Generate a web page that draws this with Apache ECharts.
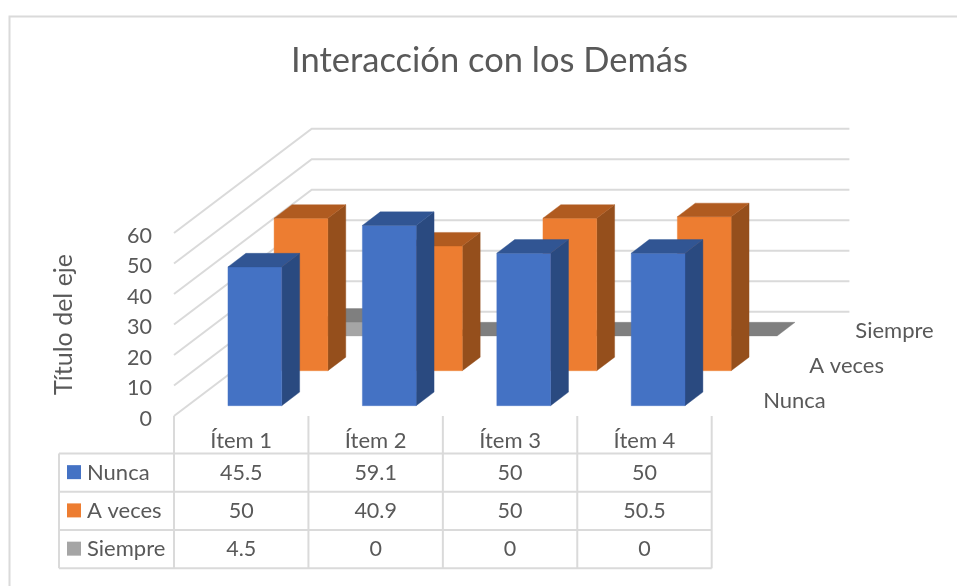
<!DOCTYPE html>
<html>
<head>
<meta charset="utf-8">
<style>html,body{margin:0;padding:0;background:#fff}#c{width:957px;height:586px}</style>
<script src="https://cdn.jsdelivr.net/npm/echarts@6/dist/echarts.min.js"></script>
</head>
<body>
<div id="c"></div>
<script>
const chartTitle = 'Interacción con los Demás';
const yAxisTitle = 'Título del eje';
const categories = ['Ítem 1', 'Ítem 2', 'Ítem 3', 'Ítem 4'];
const rowNames = ['Nunca', 'A veces', 'Siempre'];
const nunca = [45.5, 59.1, 50, 50];
const aVeces = [50, 40.9, 50, 50.5];
const siempre = [4.5, 0, 0, 0];
const yTicks = [0, 10, 20, 30, 40, 50, 60];

const FONT = 'Lato, "Open Sans", sans-serif';
const TEXT = '#595959';
const LINE = '#DADADA';
// projection of the depth axis, in pixels for the whole depth of the floor
const DEPTH_X = 137.7, DEPTH_Y = -104.3;
const BAR_WIDTH_RATIO = 0.4, ROW_START = [0.099, 0.434, 0.768], BAR_DEPTH = 0.13;
const SKINS = [
  {front: '#4472C4', top: '#315593', side: '#2A4A80'},
  {front: '#ED7D31', top: '#B05B20', side: '#954F1C'},
  {front: '#A5A5A5', top: '#7F7F7F', side: '#6E6E6E'}
];
// table layout
const TABLE_ROW_Y = [453.5, 491.8, 530, 568.3];
const TABLE_LEFT = 59;

function polygon(points, fill) {
  return {type: 'polygon', shape: {points}, style: {fill, stroke: fill, lineWidth: 0.4}};
}
function renderBar(row) {
  return function (params, api) {
    const band = api.size([1, 0])[0];
    const w = band * BAR_WIDTH_RATIO;
    const base = api.coord([api.value(0), 0]);
    const head = api.coord([api.value(0), api.value(1)]);
    const d0 = ROW_START[row];
    const ox = DEPTH_X * d0, oy = DEPTH_Y * d0;
    const bx = DEPTH_X * BAR_DEPTH, by = DEPTH_Y * BAR_DEPTH;
    const l = base[0] - w / 2 + ox, r = base[0] + w / 2 + ox;
    const yb = base[1] + oy, yt = head[1] + oy;
    const s = SKINS[row];
    const children = [];
    if (yb - yt > 0.01) {
      children.push(polygon([[r, yb], [r + bx, yb + by], [r + bx, yt + by], [r, yt]], s.side));
      children.push(polygon([[l, yb], [r, yb], [r, yt], [l, yt]], s.front));
    }
    children.push(polygon([[l, yt], [r, yt], [r + bx, yt + by], [l + bx, yt + by]], s.top));
    return {type: 'group', children};
  };
}
function renderWall(params, api) {
  const band = api.size([1, 0])[0];
  const first = api.coord([0, api.value(0)]);
  const last = api.coord([categories.length - 1, api.value(0)]);
  const x0 = first[0] - band / 2, x1 = last[0] + band / 2, y = first[1];
  return {
    type: 'polyline',
    shape: {points: [[x0, y], [x0 + DEPTH_X, y + DEPTH_Y], [x1 + DEPTH_X, y + DEPTH_Y]]},
    style: {fill: 'none', stroke: LINE, lineWidth: 2}
  };
}
function renderDepthLabel(params, api) {
  const band = api.size([1, 0])[0];
  const row = api.value(0);
  const c = api.coord([categories.length - 1, 0]);
  return {
    type: 'text',
    style: {
      text: rowNames[row], fill: TEXT, font: '22px ' + FONT, align: 'left', verticalAlign: 'middle',
      x: c[0] + band / 2 + 51.5 + DEPTH_X * (ROW_START[row] - ROW_START[0]),
      y: 401 + (row * -35)
    }
  };
}
function renderTable(params, api) {
  const band = api.size([1, 0])[0];
  const n = categories.length;
  const first = api.coord([0, 0]);
  const xs = categories.map((_, i) => api.coord([i, 0])[0] - band / 2);
  xs.push(api.coord([n - 1, 0])[0] + band / 2);
  const right = xs[n];
  const children = [];
  const line = (x1, y1, x2, y2) => ({type: 'line', shape: {x1, y1, x2, y2}, style: {stroke: LINE, lineWidth: 2}});
  TABLE_ROW_Y.forEach(y => children.push(line(TABLE_LEFT, y, right, y)));
  children.push(line(TABLE_LEFT, TABLE_ROW_Y[0], TABLE_LEFT, TABLE_ROW_Y[3]));
  xs.forEach(x => children.push(line(x, first[1], x, TABLE_ROW_Y[3])));
  rowNames.forEach((name, r) => {
    const cy = (TABLE_ROW_Y[r] + TABLE_ROW_Y[r + 1]) / 2;
    children.push({type: 'rect', shape: {x: 67, y: cy - 7.5, width: 14, height: 14}, style: {fill: SKINS[r].front}});
    children.push({type: 'text', style: {text: name, x: 87, y: cy, fill: TEXT, font: '22px ' + FONT, align: 'left', verticalAlign: 'middle'}});
  });
  [nunca, aVeces, siempre].forEach((vals, r) => {
    const cy = (TABLE_ROW_Y[r] + TABLE_ROW_Y[r + 1]) / 2;
    vals.forEach((v, i) => children.push({type: 'text', style: {text: String(v), x: api.coord([i, 0])[0], y: cy, fill: TEXT, font: '21.5px ' + FONT, align: 'center', verticalAlign: 'middle'}}));
  });
  return {type: 'group', children};
}

const chart = echarts.init(document.getElementById('c'), null, {renderer: 'canvas'});
const barSeries = (name, row, values, z) => ({
  type: 'custom', name, z, coordinateSystem: 'cartesian2d', silent: true, clip: false,
  encode: {x: 0, y: 1},
  renderItem: renderBar(row),
  data: values.map((v, i) => [i, v])
});
chart.setOption({
  animation: false,
  backgroundColor: '#fff',
  title: {
    text: chartTitle, left: 484.5, top: 38, textAlign: 'center',
    textStyle: {fontFamily: FONT, fontWeight: 'normal', fontSize: 34.5, color: TEXT}
  },
  grid: {left: 174, top: 233, width: 537.7, height: 183},
  xAxis: {
    type: 'category', data: categories,
    axisLine: {show: false}, axisTick: {show: false}, splitLine: {show: false},
    axisLabel: {color: TEXT, fontFamily: FONT, fontSize: 22, margin: 14}
  },
  yAxis: {
    type: 'value', min: 0, max: 60, interval: 10,
    name: yAxisTitle, nameLocation: 'middle', nameGap: 98, nameRotate: 90,
    nameTextStyle: {color: TEXT, fontFamily: FONT, fontSize: 25},
    axisLine: {show: false}, axisTick: {show: false}, splitLine: {show: false},
    axisLabel: {color: TEXT, fontFamily: FONT, fontSize: 21.5, margin: 22, verticalAlign: 'top', lineHeight: 6}
  },
  graphic: [
    {type: 'polyline', shape: {points: [[9.5, 586], [9.5, 16.5], [957, 16.5]]}, style: {fill: 'none', stroke: LINE, lineWidth: 2}, silent: true}
  ],
  series: [
    {type: 'custom', name: 'walls', z: 1, silent: true, clip: false, encode: {y: 0}, renderItem: renderWall, data: yTicks.map(v => [v])},
    barSeries('Siempre', 2, siempre, 2),
    barSeries('A veces', 1, aVeces, 3),
    barSeries('Nunca', 0, nunca, 4),
    {type: 'custom', name: 'depthLabels', z: 5, silent: true, clip: false, renderItem: renderDepthLabel, data: rowNames.map((_, r) => [r])},
    {type: 'custom', name: 'table', z: 5, silent: true, clip: false, renderItem: renderTable, data: [[0]]}
  ]
});
</script>
</body>
</html>
